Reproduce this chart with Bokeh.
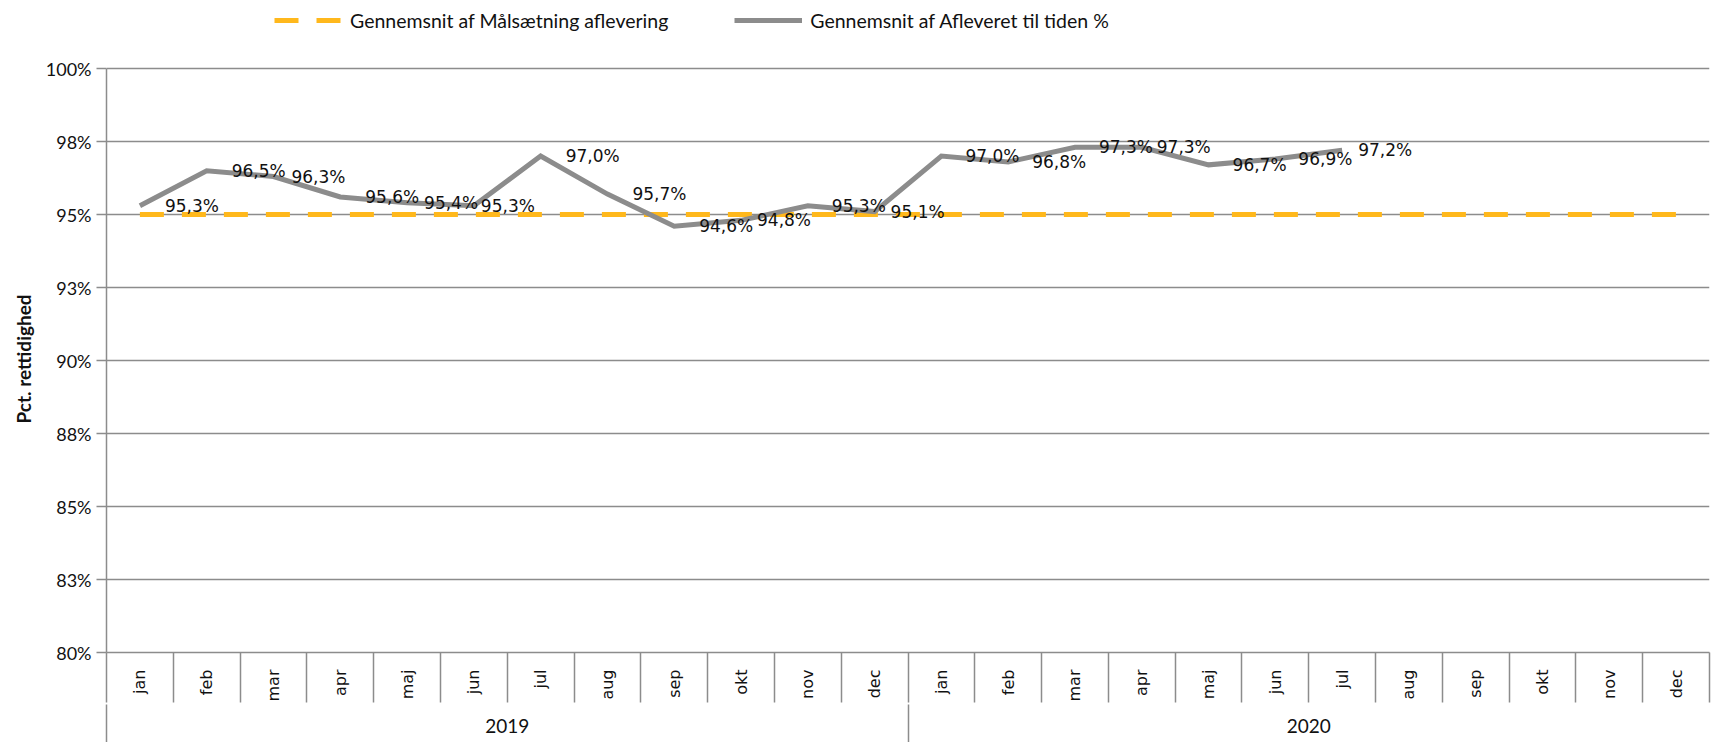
import math
from bokeh.plotting import figure
from bokeh.models import (Range1d, LinearAxis, FixedTicker, Legend, LegendItem,
                          ColumnDataSource, Title)
from bokeh.core.properties import value
from bokeh.embed import file_html
from bokeh.resources import INLINE

# ---------------- data ----------------
months = ["jan", "feb", "mar", "apr", "maj", "jun", "jul", "aug", "sep", "okt", "nov", "dec",
          "jan", "feb", "mar", "apr", "maj", "jun", "jul", "aug", "sep", "okt", "nov", "dec"]
years = ["2019", "2020"]
target = [95.0] * 24
actual = [95.3, 96.5, 96.3, 95.6, 95.4, 95.3, 97.0, 95.7, 94.6, 94.8, 95.3, 95.1,
          97.0, 96.8, 97.3, 97.3, 96.7, 96.9, 97.2]
y_ticks = [80, 82.5, 85, 87.5, 90, 92.5, 95, 97.5, 100]
y_tick_labels = ["80%", "83%", "85%", "88%", "90%", "93%", "95%", "98%", "100%"]
series_names = ["Gennemsnit af Målsætning aflevering", "Gennemsnit af Afleveret til tiden %"]
y_title = "Pct. rettidighed"

# styling: horizontal pixel gap between each point and its data label (as in the original)
label_dx = [25, 25, 18, 25, 17, 7, 25, 25, 25, 16, 24, 16, 24, 24, 24, 15, 24, 23, 16]

ORANGE = "#FFB81C"
GRAY = "#8C8C8C"
TXT = "#111111"
CAL = "Lato"
DJ = "DejaVu Sans"

x_all = list(range(len(months)))
x_act = x_all[:len(actual)]

# ---------------- layout (pixels) ----------------
FIG_W, FIG_H = 1711, 742
LEFT, RIGHT, BOTTOM = 106, 2, 90
FRAME_H = FIG_H - BOTTOM          # frame reaches the top edge (legend lives in it)
PLOT_TOP = 68                     # pixel row of the 100% line
y_lo, y_hi = y_ticks[0], y_ticks[-1]
y_top = y_lo + (y_hi - y_lo) * FRAME_H / (FRAME_H - PLOT_TOP)

p = figure(width=FIG_W, height=FIG_H, x_range=Range1d(-0.5, len(months) - 0.5),
           y_range=Range1d(y_lo, y_top),
           output_backend="svg", toolbar_location=None, x_axis_location=None,
           y_axis_location="left",
           min_border_left=LEFT, min_border_right=RIGHT, min_border_top=0,
           min_border_bottom=BOTTOM)
p.outline_line_color = None
p.background_fill_color = "white"
p.border_fill_color = "white"
p.xgrid.visible = False

# y axis
yt = FixedTicker(ticks=y_ticks)
yax = p.yaxis[0]
yax.ticker = yt
yax.bounds = (y_lo, y_hi)
yax.major_label_overrides = {t: l for t, l in zip(y_ticks, y_tick_labels)}
yax.minor_tick_line_color = None
yax.minor_tick_out = 0
yax.minor_tick_in = 0
yax.major_tick_in = 0
yax.major_tick_out = 10
yax.major_tick_line_color = GRAY
yax.major_tick_line_width = 1.5
yax.axis_line_color = GRAY
yax.axis_line_width = 1.5
yax.major_label_standoff = 5
yax.major_label_text_font = CAL
yax.major_label_text_font_size = "18px"
yax.major_label_text_color = TXT

p.ygrid.ticker = yt
p.ygrid.grid_line_color = GRAY
p.ygrid.grid_line_width = 1.5

# y title, centred on the 80%-100% span
p.add_layout(Title(text=y_title, align="left", offset=229, standoff=15,
                   text_font=CAL, text_font_style="bold", text_font_size="19px",
                   text_color=TXT), "left")

# month axis (separators = minor ticks at the month boundaries)
xa = LinearAxis(ticker=FixedTicker(ticks=x_all, minor_ticks=[i - 0.5 for i in range(len(months) + 1)]),
                major_label_overrides={i: m for i, m in enumerate(months)},
                major_label_orientation=math.pi / 2,
                major_tick_out=0, major_tick_in=0, major_tick_line_color=None,
                minor_tick_out=50, minor_tick_in=0, minor_tick_line_color=GRAY,
                minor_tick_line_width=1.5,
                axis_line_color=GRAY, axis_line_width=1.5,
                major_label_standoff=-33,
                major_label_text_font=DJ, major_label_text_font_size="16px",
                major_label_text_color=TXT)
p.add_layout(xa, "below")

# year axis (separators at the year boundaries)
year_pos = [5.5, 17.5]
ya = LinearAxis(ticker=FixedTicker(ticks=year_pos, minor_ticks=[-0.5, 11.5]),
                major_label_overrides={pos: y for pos, y in zip(year_pos, years)},
                major_tick_out=0, major_tick_in=0, major_tick_line_color=None,
                minor_tick_in=0, minor_tick_out=45, minor_tick_line_color=GRAY,
                minor_tick_line_width=1.5,
                axis_line_color=None,
                major_label_standoff=-31,
                major_label_text_font=CAL, major_label_text_font_size="19px",
                major_label_text_color=TXT)
p.add_layout(ya, "below")

# series
r_target = p.line(x_all, target, line_color=ORANGE, line_width=5, line_dash="24 18")
r_actual = p.line(x_act, actual, line_color=GRAY, line_width=5, line_join="miter")

lab_src = ColumnDataSource(dict(x=x_act, y=actual, dx=label_dx,
                                t=[("%.1f%%" % v).replace(".", ",") for v in actual]))
p.text(x="x", y="y", text="t", source=lab_src, x_offset="dx", text_align="left",
       text_baseline="middle", text_font=value(DJ), text_font_size="17px", text_color=TXT)

legend = Legend(items=[LegendItem(label=series_names[0], renderers=[r_target]),
                       LegendItem(label=series_names[1], renderers=[r_actual])],
                orientation="horizontal", location=(168, FRAME_H - 8 - 24), spacing=66,
                glyph_width=68, glyph_height=24, label_height=24, label_standoff=8,
                padding=0, margin=0,
                border_line_color=None, background_fill_alpha=0,
                label_text_font=CAL, label_text_font_size="19.5px", label_text_color=TXT)
p.add_layout(legend)

open("out.html", "w").write(file_html(p, INLINE))
